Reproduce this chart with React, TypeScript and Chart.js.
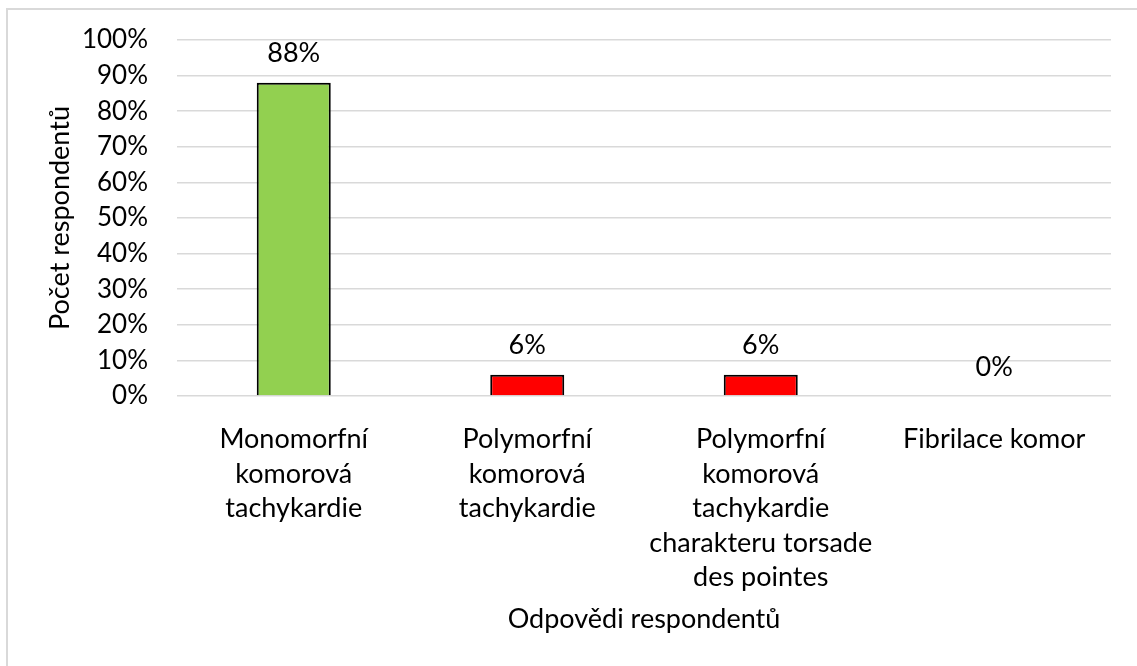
import React, { useEffect, useRef } from "react";
import { Chart, registerables } from "chart.js";

Chart.register(...registerables);

const categories: string[][] = [
  ["Monomorfní", "komorová", "tachykardie"],
  ["Polymorfní", "komorová", "tachykardie"],
  ["Polymorfní", "komorová", "tachykardie", "charakteru torsade", "des pointes"],
  ["Fibrilace komor"],
];
const values: number[] = [88, 6, 6, 0];
const barColors: string[] = ["#92D050", "#FF0000", "#FF0000", "#FF0000"];
const yTitle = "Počet respondentů";
const xTitle = "Odpovědi respondentů";

const FONT = "Lato";
const SIZE = 27;

const dataLabels = {
  id: "dataLabels",
  afterDatasetsDraw(chart: any) {
    const ctx = chart.ctx;
    const meta = chart.getDatasetMeta(0);
    ctx.save();
    ctx.font = `${SIZE}px ${FONT}`;
    ctx.fillStyle = "#000";
    ctx.textAlign = "center";
    ctx.textBaseline = "middle";
    meta.data.forEach((el: any, i: number) => {
      ctx.fillText(values[i] + "%", el.x, el.y - 29);
    });
    ctx.restore();
  },
};

export default function App() {
  const ref = useRef<HTMLCanvasElement | null>(null);
  useEffect(() => {
    if (!ref.current) return;
    const chart = new Chart(ref.current, {
      type: "bar",
      data: {
        labels: categories,
        datasets: [
          {
            data: values,
            backgroundColor: barColors,
            borderColor: "#000",
            borderWidth: 2,
            barPercentage: 0.317,
            categoryPercentage: 1,
          },
        ],
      },
      options: {
        animation: false,
        responsive: false,
        maintainAspectRatio: false,
        layout: { padding: { top: 40, right: 26, left: 0, bottom: 0 } },
        plugins: { legend: { display: false }, tooltip: { enabled: false } },
        scales: {
          x: {
            grid: { display: false },
            border: { display: false },
            ticks: {
              color: "#000",
              font: { family: FONT, size: SIZE, lineHeight: 1.28 },
              padding: 18,
              autoSkip: false,
              maxRotation: 0,
              minRotation: 0,
            },
            title: {
              display: true,
              text: xTitle,
              color: "#000",
              font: { family: FONT, size: SIZE, lineHeight: 1.2 },
              padding: { top: 0, bottom: 31 },
            },
            afterFit(scale: any) {
              scale.height = 270;
              scale.paddingLeft = 0;
              scale.paddingRight = 0;
            },
          },
          y: {
            min: 0,
            max: 100,
            grid: { color: "#d9d9d9", lineWidth: 1.5, drawTicks: false },
            border: { display: false },
            ticks: {
              stepSize: 10,
              color: "#000",
              font: { family: FONT, size: 26 },
              padding: 29,
              callback: (v: any) => v + "%",
            },
            title: {
              display: true,
              text: yTitle,
              color: "#000",
              font: { family: FONT, size: SIZE, lineHeight: 1.2 },
              padding: { top: 44, bottom: 0 },
            },
            afterFit(scale: any) {
              scale.width = 177;
              scale.paddingTop = 0;
              scale.paddingBottom = 0;
            },
          },
        },
      },
      plugins: [dataLabels],
    });
    return () => chart.destroy();
  }, []);

  return (
    <div
      style={{
        position: "fixed",
        left: 0,
        top: 0,
        width: 1137,
        height: 666,
        background: "#fff",
        overflow: "hidden",
      }}
    >
      <div
        style={{
          position: "absolute",
          left: 6,
          top: 8,
          width: 1200,
          height: 700,
          borderLeft: "2px solid #d9d9d9",
          borderTop: "2px solid #d9d9d9",
        }}
      />
      <canvas
        ref={ref}
        width={1137}
        height={666}
        style={{ position: "absolute", left: 0, top: 0, width: 1137, height: 666 }}
      />
    </div>
  );
}
